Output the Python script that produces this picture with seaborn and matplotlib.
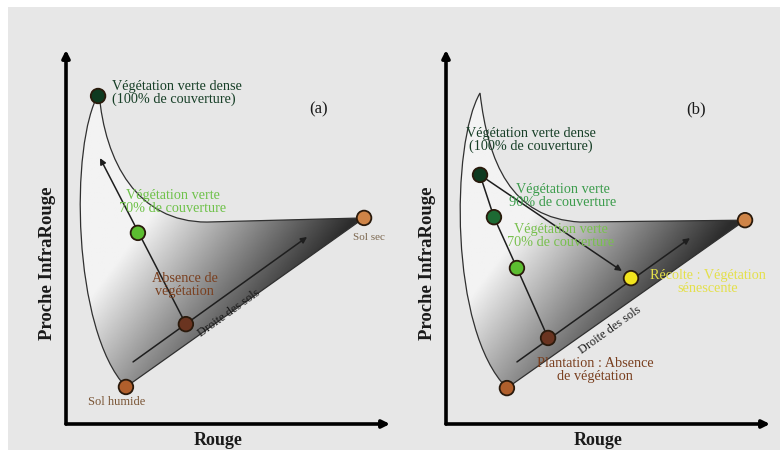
import numpy as np
import pandas as pd
import matplotlib.pyplot as plt
import seaborn as sns
from matplotlib.path import Path
from matplotlib.patches import PathPatch, Rectangle
from matplotlib.colors import LinearSegmentedColormap

# --- data (Rouge, Proche InfraRouge), arbitrary units 0-100 ---
A_NAMES = ["dense", "v70", "absence", "humide", "sec"]
A_RED = [9.9, 22.2, 37.0, 18.5, 92.0]
A_NIR = [87.7, 51.1, 26.7, 9.9, 55.1]

B_NAMES = ["dense", "v90", "v70", "plantation", "humide", "sec", "recolte"]
B_RED = [10.5, 14.8, 21.9, 31.5, 18.8, 92.3, 57.1]
B_NIR = [66.6, 55.3, 41.7, 23.0, 9.6, 54.5, 39.0]

# envelope outline: start, two bezier controls, peak, two controls, knee
A_ENV_X = [18.5, 2.0, 1.0, 10.2, 12.0, 22.0, 43.5]
A_ENV_Y = [9.9, 25.0, 75.0, 88.5, 70.0, 54.0, 54.0]
B_ENV_X = [18.8, 1.0, 1.5, 10.5, 13.0, 20.0, 41.4]
B_ENV_Y = [9.6, 25.0, 75.0, 88.5, 70.0, 55.0, 54.0]

# arrows (start -> end)
A_SOIL_ARROW = [(20.7, 16.6), (74.4, 50.0)]
A_VEG_ARROW = [(37.0, 26.7), (10.5, 71.1)]
B_SOIL_ARROW = [(21.9, 16.6), (75.3, 49.7)]
B_HARVEST_ARROW = [(10.5, 66.6), (54.3, 40.9)]
B_CHAIN = ["dense", "v90", "v70", "plantation"]

COLORS = {
    "dense": "#0e3a20",
    "v90": "#1d6a33",
    "v70": "#5cbd30",
    "absence": "#6a3420",
    "plantation": "#6a3420",
    "humide": "#b05f2c",
    "sec": "#cf8447",
    "recolte": "#f2e41e",
}

sns.set_theme(style="white")
plt.rcParams["font.family"] = ["Liberation Serif", "DejaVu Serif"]

BG = "#e7e7e7"
LABEL_SIZE = 10.3
fig = plt.figure(figsize=(7.8, 4.5), dpi=100, facecolor=BG)
fig.patches.append(Rectangle((0, 1 - 7 / 450), 1, 7 / 450, transform=fig.transFigure,
                             facecolor="white", edgecolor="none", zorder=0))
fig.patches.append(Rectangle((0, 0), 8 / 780, 1, transform=fig.transFigure,
                             facecolor="white", edgecolor="none", zorder=0))

ax_a = fig.add_axes([66 / 780, 26 / 450, 324 / 780, 374 / 450])
ax_b = fig.add_axes([446 / 780, 26 / 450, 324 / 780, 374 / 450])

grad_cmap = LinearSegmentedColormap.from_list("g", ["#f3f3f3", "#2c2c2c"])


def envelope(ax, ex, ey, sec):
    verts = [(ex[0], ey[0]), (ex[1], ey[1]), (ex[2], ey[2]), (ex[3], ey[3]),
             (ex[4], ey[4]), (ex[5], ey[5]), (ex[6], ey[6]), sec, (ex[0], ey[0])]
    codes = [Path.MOVETO, Path.CURVE4, Path.CURVE4, Path.CURVE4,
             Path.CURVE4, Path.CURVE4, Path.CURVE4, Path.LINETO, Path.LINETO]
    patch = PathPatch(Path(verts, codes), facecolor="none", edgecolor="#303030",
                      lw=0.9, zorder=2)
    ax.add_patch(patch)
    gx, gy = np.meshgrid(np.linspace(0, 100, 300), np.linspace(0, 100, 300))
    shade = np.clip(0.01573 * gx - 0.01356 * gy + 0.343, 0, 1)
    im = ax.imshow(shade, extent=[0, 100, 0, 100], origin="lower", cmap=grad_cmap,
                   vmin=0, vmax=1, aspect="auto", zorder=1)
    im.set_clip_path(patch)


def arrow(ax, seg, lw=1.1):
    ax.annotate("", xy=seg[1], xytext=seg[0],
                arrowprops=dict(arrowstyle="-|>", lw=lw, color="#1e1e1e",
                                mutation_scale=9, shrinkA=0, shrinkB=0), zorder=3)


def frame(ax, tag, tag_x):
    ax.set_xlim(0, 100)
    ax.set_ylim(0, 100)
    ax.set_xticks([])
    ax.set_yticks([])
    ax.set_xlabel("")
    ax.set_ylabel("")
    for s in ax.spines.values():
        s.set_visible(False)
    ax.patch.set_alpha(0)
    for end in [(0, 1), (1, 0)]:
        ax.annotate("", xy=end, xytext=(0, 0), xycoords="axes fraction",
                    arrowprops=dict(arrowstyle="-|>", lw=2.6, color="black",
                                    mutation_scale=11, shrinkA=0, shrinkB=0),
                    annotation_clip=False)
    ax.text(0.47, -0.043, "Rouge", transform=ax.transAxes, ha="center", va="center",
            fontsize=13, fontweight="bold", color="#1a1a1a")
    ax.text(-0.056, 0.43, "Proche InfraRouge", transform=ax.transAxes, rotation=90,
            ha="center", va="center", fontsize=13.5, fontweight="bold", color="#1a1a1a")
    ax.text(tag_x, 84.2, tag, ha="center", va="center", fontsize=12, color="#1a1a1a")


def points(ax, names, red, nir):
    df = pd.DataFrame({"Rouge": red, "PIR": nir, "cls": names})
    sns.scatterplot(data=df, x="Rouge", y="PIR", hue="cls", palette=COLORS,
                    s=110, edgecolor="#2a1a0c", linewidth=1.3, legend=False,
                    zorder=5, ax=ax)


# ---------- panel (a) ----------
envelope(ax_a, A_ENV_X, A_ENV_Y, (A_RED[4], A_NIR[4]))
arrow(ax_a, A_SOIL_ARROW)
arrow(ax_a, A_VEG_ARROW)
points(ax_a, A_NAMES, A_RED, A_NIR)
frame(ax_a, "(a)", 77.8)

ax_a.text(14.2, 88.5, "Végétation verte dense\n(100% de couverture)", ha="left", va="center",
          fontsize=LABEL_SIZE, color="#173f27", linespacing=0.95)
ax_a.text(33.0, 59.4, "Végétation verte\n70% de couverture", ha="center", va="center",
          fontsize=LABEL_SIZE, color="#6fc24a", linespacing=0.95)
ax_a.text(36.7, 37.2, "Absence de\nvégétation", ha="center", va="center",
          fontsize=LABEL_SIZE, color="#7a4020", linespacing=0.95)
ax_a.text(93.5, 49.8, "Sol sec", ha="center", va="center", fontsize=8, color="#7d6850")
ax_a.text(15.7, 5.9, "Sol humide", ha="center", va="center", fontsize=9, color="#7a5535")
ax_a.text(50.3, 29.7, "Droite des sols", ha="center", va="center", rotation=35.7,
          fontsize=8.8, color="#1a1a1a")

# ---------- panel (b) ----------
envelope(ax_b, B_ENV_X, B_ENV_Y, (B_RED[5], B_NIR[5]))
arrow(ax_b, B_SOIL_ARROW)
arrow(ax_b, B_HARVEST_ARROW)
chain = pd.DataFrame({"Rouge": [B_RED[B_NAMES.index(n)] for n in B_CHAIN],
                      "PIR": [B_NIR[B_NAMES.index(n)] for n in B_CHAIN]})
sns.lineplot(data=chain, x="Rouge", y="PIR", sort=False, estimator=None,
             color="#1e1e1e", lw=1.1, zorder=3, ax=ax_b)
points(ax_b, B_NAMES, B_RED, B_NIR)
frame(ax_b, "(b)", 77.2)

ax_b.text(26.2, 75.9, "Végétation verte dense\n(100% de couverture)", ha="center", va="center",
          fontsize=LABEL_SIZE, color="#173f27", linespacing=0.95)
ax_b.text(36.1, 61.0, "Végétation verte\n90% de couverture", ha="center", va="center",
          fontsize=LABEL_SIZE, color="#3c9c4c", linespacing=0.95)
ax_b.text(35.5, 50.3, "Végétation verte\n70% de couverture", ha="center", va="center",
          fontsize=LABEL_SIZE, color="#78c04e", linespacing=0.95)
ax_b.text(80.8, 38.0, "Récolte : Végétation\nsénescente", ha="center", va="center",
          fontsize=LABEL_SIZE, color="#e4e04a", linespacing=0.95)
ax_b.text(46.0, 14.4, "Plantation : Absence\nde végétation", ha="center", va="center",
          fontsize=LABEL_SIZE, color="#7a4020", linespacing=0.95)
ax_b.text(50.6, 25.1, "Droite des sols", ha="center", va="center", rotation=35.7,
          fontsize=8.8, color="#1a1a1a")

fig.savefig("out.png", dpi=100, facecolor=fig.get_facecolor())
